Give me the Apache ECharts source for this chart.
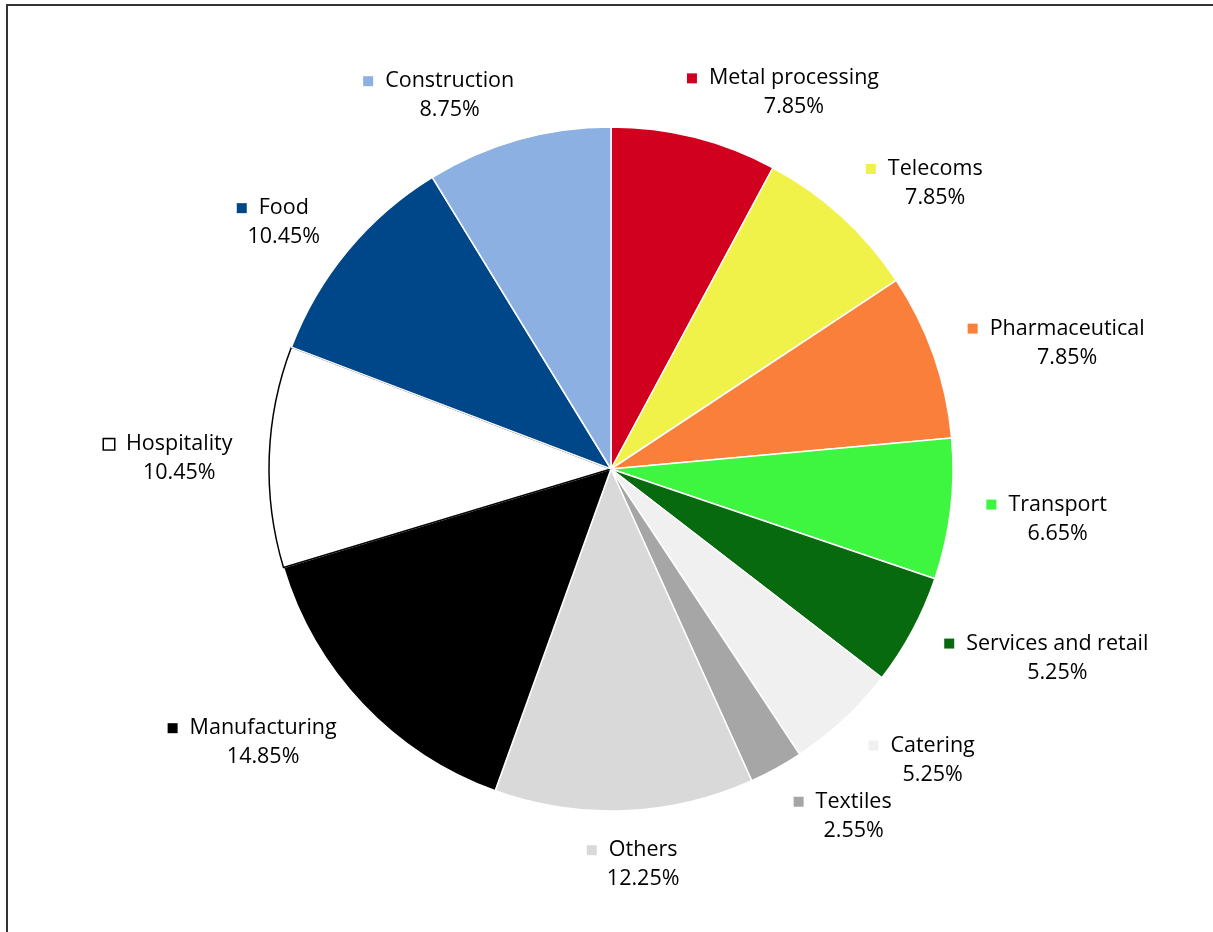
<!DOCTYPE html>
<html>
<head>
<meta charset="utf-8">
<script src="https://cdn.jsdelivr.net/npm/echarts@6/dist/echarts.min.js"></script>
<style>
html,body{margin:0;padding:0;background:#fff;}
#chart{width:1213px;height:932px;}
</style>
</head>
<body>
<div id="chart"></div>
<script>
const categories = ['Metal processing','Telecoms','Pharmaceutical','Transport','Services and retail','Catering','Textiles','Others','Manufacturing','Hospitality','Food','Construction'];
const values = [7.85, 7.85, 7.85, 6.65, 5.25, 5.25, 2.55, 12.25, 14.85, 10.45, 10.45, 8.75];
const colors = ['#D2001F','#F0F24A','#F97F3A','#3EF540','#076A0F','#F0F0F0','#A6A6A6','#D9D9D9','#000000','#FFFFFF','#00478A','#8DB0E2'];

const CX = 611, CY = 469, R = 342;
const total = values.reduce((a, b) => a + b, 0);
const midAngles = [];
{
  let acc = 0;
  values.forEach(v => { midAngles.push((acc + v / 2) / total * 2 * Math.PI); acc += v; });
}

const FS = 21.5;
const rich = {
  g: {width: 12, align: 'center'},
  s: {width: 22, align: 'center'},
  n: {fontSize: FS, color: '#000', align: 'center', lineHeight: 29},
  p: {fontSize: FS, color: '#000', align: 'center', lineHeight: 29}
};
colors.forEach((c, i) => {
  rich['m' + i] = {width: 10, height: 10, backgroundColor: c, align: 'center',
    borderColor: i === 9 ? '#000' : c, borderWidth: i === 9 ? 1.5 : 0};
});

const data = categories.map((n, i) => ({
  name: n, value: values[i],
  itemStyle: i === 9 ? {color: colors[i], borderColor: '#000', borderWidth: 1.5} : {color: colors[i]}
}));

const chart = echarts.init(document.getElementById('chart'), null, {renderer: 'canvas'});
chart.setOption({
  animation: false,
  backgroundColor: '#fff',
  textStyle: {fontFamily: 'Open Sans'},
  graphic: [{
    type: 'rect', shape: {x: 7, y: 5, width: 1400, height: 1200},
    style: {fill: 'none', stroke: '#333', lineWidth: 2}, silent: true
  }],
  series: [{
    type: 'pie',
    center: [CX, CY],
    radius: R,
    startAngle: 90,
    clockwise: true,
    avoidLabelOverlap: false,
    data: data,
    itemStyle: {borderColor: '#fff', borderWidth: 1.5},
    label: {
      show: true,
      position: 'outside',
      alignTo: 'none',
      distanceToLabelLine: 0,
      fontFamily: 'Open Sans',
      fontSize: FS,
      lineHeight: 29,
      color: '#000',
      rich: rich,
      formatter: p => '{m' + p.dataIndex + '|}{g|}{n|' + p.name + '}\n{s|}{p|' + p.value.toFixed(2) + '%}'
    },
    labelLine: {show: false, length: 40, length2: 0},
    labelLayout: function (params) {
      const a = midAngles[params.dataIndex];
      const s = Math.sin(a), c = Math.cos(a);
      const w = params.labelRect.width;
      const f = Math.max(-1, Math.min(1, 3.4 * s));
      return {
        x: CX + (R + 36) * s + (w / 2) * f,
        y: CY + 4 - (R + 50) * c,
        align: 'center',
        verticalAlign: 'middle',
        hideOverlap: false
      };
    },
    emphasis: {disabled: true}
  }]
});
</script>
</body>
</html>
